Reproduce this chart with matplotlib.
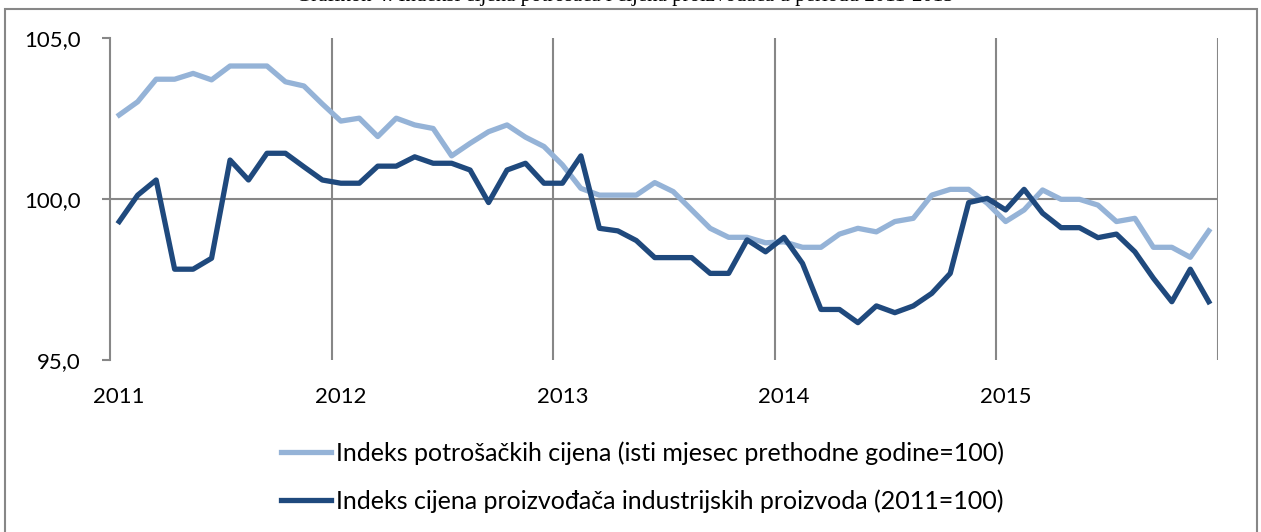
import matplotlib
matplotlib.use("Agg")
import matplotlib.pyplot as plt
from matplotlib.lines import Line2D
from matplotlib.patches import Rectangle
import matplotlib.transforms as mtransforms

# monthly values 2011-2015
cpi = [102.61, 103.02, 103.72, 103.72, 103.90, 103.70, 104.13, 104.13, 104.13, 103.64, 103.51, 102.95,
       102.42, 102.51, 101.94, 102.51, 102.30, 102.19, 101.34, 101.73, 102.09, 102.30, 101.92, 101.63,
       101.06, 100.33, 100.12, 100.12, 100.12, 100.51, 100.23, 99.66, 99.09, 98.81, 98.81, 98.64,
       98.67, 98.50, 98.50, 98.91, 99.09, 98.98, 99.30, 99.40, 100.12, 100.30,
       100.30, 99.87, 99.30, 99.66, 100.28, 99.99, 99.99, 99.81, 99.30, 99.40, 98.50, 98.50, 98.19, 99.01]
ppi = [99.30, 100.12, 100.59, 97.82, 97.82, 98.16, 101.21, 100.59, 101.42, 101.42, 101.00, 100.59,
       100.49, 100.49, 101.02, 101.02, 101.31, 101.11, 101.11, 100.90, 99.89, 100.90, 101.11, 100.49,
       100.49, 101.34, 99.09, 99.01, 98.71, 98.18, 98.18, 98.18, 97.69, 97.69, 98.73, 98.36,
       98.81, 98.00, 96.57, 96.57, 96.16, 96.68, 96.47, 96.68, 97.07, 97.69,
       99.89, 100.02, 99.66, 100.30, 99.56, 99.11, 99.11, 98.80, 98.91, 98.36, 97.54, 96.81, 97.82, 96.81]
years = ["2011", "2012", "2013", "2014", "2015"]
yticks = [95, 100, 105]
ytick_labels = ["95,0", "100,0", "105,0"]
labels = ["Indeks potrošačkih cijena (isti mjesec prethodne godine=100)",
          "Indeks cijena proizvođača industrijskih proizvoda (2011=100)"]
title = "Grafikon 4: Indeksi cijena potrošača i cijena proizvođača u periodu 2011-2015"

light = "#95B3D7"
dark = "#1F497D"
gray = "#878787"
fs = 16
fs_leg = 18
font = "Lato"

fig = plt.figure(figsize=(12.61, 5.32), dpi=100)
ax = fig.add_axes([110 / 1261, 1 - 360 / 532, 1108 / 1261, 322 / 532])

# outer frame and the title that sits mostly above the picture
fig.add_artist(Rectangle((5 / 1261, -0.05), 1252 / 1261, 1.05 - 8.5 / 532,
                         transform=fig.transFigure, fill=False, edgecolor=gray, lw=1.5))
fig.text(625 / 1261, 1 - 0.5 / 532, title, ha="center", va="baseline",
         family="Liberation Serif", fontsize=15)

x = list(range(len(cpi)))
for k in range(1, 6):
    ax.axvline(12 * k - 0.5, color=gray, lw=1.5, zorder=1)
ax.axhline(100, color=gray, lw=1.5, zorder=1)

ax.plot(x, cpi, color=light, lw=3.8, solid_joinstyle="round", zorder=3)
ax.plot(x, ppi, color=dark, lw=3.8, solid_joinstyle="round", zorder=4)

ax.set_xlim(-0.5, 59.5)
ax.set_ylim(95, 105)
for s in ["top", "right", "bottom"]:
    ax.spines[s].set_visible(False)
ax.spines["left"].set_color(gray)
ax.spines["left"].set_linewidth(1.5)
ax.set_yticks(yticks)
ax.set_yticklabels(ytick_labels, family=font, fontsize=fs)
ax.tick_params(axis="y", direction="out", length=6, width=1.5, color=gray, pad=15)
ax.set_xticks([])

trans = mtransforms.blended_transform_factory(ax.transData, ax.transAxes)
for k, yr in enumerate(years):
    ax.text(12 * k, -0.115, yr, transform=trans, ha="center", va="center",
            family=font, fontsize=fs)

handles = [Line2D([], [], color=light, lw=3.8), Line2D([], [], color=dark, lw=3.8)]
fig.legend(handles, labels, loc="upper left", bbox_to_anchor=(258 / 1261, 1 - 419 / 532),
           frameon=False, prop={"family": font, "size": fs_leg}, handlelength=2.0,
           handletextpad=0.2, labelspacing=0.96)

fig.savefig("out.png", dpi=100)
